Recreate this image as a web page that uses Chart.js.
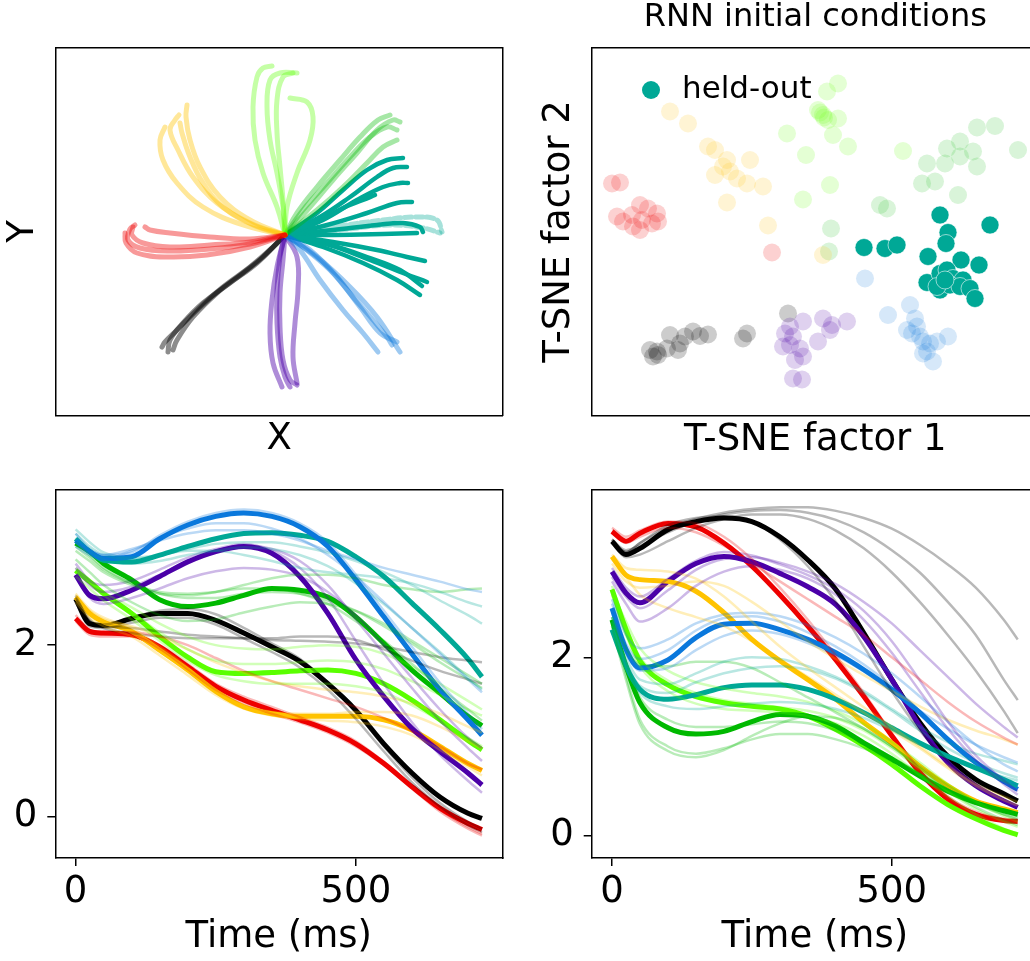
<!DOCTYPE html>
<html><head><meta charset="utf-8">
<script src="https://cdn.jsdelivr.net/npm/chart.js@4.4.0/dist/chart.umd.min.js"></script>
<style>
html,body{margin:0;padding:0;background:#fff;overflow:hidden;width:1030px;height:961px;position:relative;}
canvas{position:absolute;}
</style></head><body>
<canvas id="c1" width="530" height="470" style="left:0px;top:0px"></canvas>
<canvas id="c2" width="550" height="470" style="left:520px;top:0px"></canvas>
<canvas id="c3" width="530" height="481" style="left:0px;top:480px"></canvas>
<canvas id="c4" width="545" height="481" style="left:525px;top:480px"></canvas>
<script>
// ---------------- DATA ----------------
// colours
const colRed=[238,0,0], colYellow=[255,195,0], colLime=[90,255,0], colGreen=[0,185,0],
      colTeal=[0,168,150], colBlue=[10,120,220], colPurple=[75,0,168], colBlack=[0,0,0];

// Top-left: hand trajectories (x, y in cm-like units from the start point)
const redReaches = [
 [[0,0],[-3.5,-0.9],[-7.5,-1.4],[-11.5,-1.6],[-14.5,-1.3],[-15.7,-0.5],[-15.5,0.6],[-15,1.0]],
 [[0,0],[-3.5,-0.7],[-7.5,-1.0],[-11.5,-1.2],[-14.2,-0.8],[-15.3,0],[-15.2,0.8]],
 [[0,0],[-3.5,-0.4],[-7.5,-0.2],[-11.5,0.2],[-13.5,0.5],[-14,0.8]],
 [[0,0],[-3.5,-1.2],[-7.8,-2.0],[-11.8,-2.2],[-14.8,-1.8],[-15.9,-0.8],[-16,0.2]]
];
const yellowReaches = [
 [[0,0],[-3.5,1.2],[-6.8,3.2],[-9.2,5.8],[-10.7,8.5],[-11.5,10.5],[-11,11.5],[-10.6,12]],
 [[0,0],[-3.5,1.5],[-6.5,3.8],[-8.5,6.8],[-9.5,9.5],[-9.9,11.8],[-9.8,13]],
 [[0,0],[-4.2,1],[-8.2,2.8],[-10.8,5.2],[-12.2,7.5],[-12.5,9.5],[-12,10.8]],
 [[0,0],[-3.2,1],[-6.2,2.8],[-8.2,5.2],[-9.5,7.8],[-10.3,10.2],[-10.5,11.2]]
];
const limeReaches = [
 [[0,0],[-0.2,2.8],[-0.8,6.2],[-1.5,9.5],[-1.8,12.8],[-1.5,15.5],[-0.5,16.2],[1.2,16.2]],
 [[0,0],[-0.8,2.8],[-2.2,6.2],[-3,9.5],[-3.2,12.8],[-2.8,15.8],[-2.2,16.7],[-1.3,16.9]],
 [[0,0],[0.2,2.8],[1.2,6.2],[2.5,9.5],[2.8,11.8],[2.2,13.3],[0.5,13.7]],
 [[0,0],[-0.2,3.5],[-0.5,6.8],[-0.8,10.2],[-0.8,13.5],[-0.2,15.8],[0.8,16.2]]
];
const greenReaches = [
 [[0,0],[2.5,2.8],[4.8,5.5],[7.2,8.2],[9.2,10.5],[10.8,11.5],[11.5,11.3]],
 [[0,0],[1.8,2.5],[4.2,5.2],[6.5,7.8],[8.5,9.8],[10.2,10.8],[11.2,10.5]],
 [[0,0],[1.2,2.2],[3.2,4.8],[5.5,7.5],[7.5,9.8],[9.3,11.5],[10.5,12]],
 [[0,0],[3.2,2.5],[5.8,4.8],[8.2,7.2],[9.8,8.8],[11.2,9.5]]
];
const tealReaches = [
 [[0,0],[3.2,2.2],[5.8,4.5],[8.2,6.5],[10.2,7.5],[11.8,7.7]],
 [[0,0],[3.5,1.8],[6.5,3.8],[9.2,5.8],[10.8,6.7],[12.2,6.8]],
 [[0,0],[3.8,1.5],[7.2,3.5],[9.8,4.8],[11.5,5.2],[12.3,5.2]],
 [[0,0],[3.2,1.3],[5.8,2.7],[7.8,3.5],[9,4]],
 [[0,0],[4.2,1],[8.2,2.2],[11.2,3.2],[12.7,3.3]],
 [[0,0],[4.8,0.5],[9.2,1],[11.8,1.2],[13.5,0.8],[13.8,0.3]],
 [[0,0],[4.8,0],[9.8,0.1],[13.2,0.2]],
 [[0,0],[4.8,-0.7],[9.2,-1.5],[12.2,-2.2],[14,-2.6]],
 [[0,0],[4.5,-1],[8.5,-2.5],[11.8,-3.8],[14.2,-4.7]],
 [[0,0],[3.8,-1.2],[7.8,-2.8],[11.2,-4.5],[13.5,-6]],
 [[0,0],[4.2,-0.9],[8.2,-2.2],[11.5,-3.5],[13.7,-5.1]]
];
const tealDashedReaches = [
 [[0,0],[4.8,0.8],[9.8,1.5],[13.2,1.8],[15.2,1.5],[15.7,0.3]],
 [[0,0],[5.5,0.5],[10.5,1],[13.8,0.7],[15.5,0.2]]
];
const blueReaches = [
 [[0,0],[1.8,-1.2],[4.5,-3.5],[6.8,-6.2],[8.8,-8.5],[10.2,-10.2],[10.7,-11]],
 [[0,0],[2.5,-1.5],[5.2,-4.2],[7.5,-7.2],[9.5,-9.8],[11.2,-10.7]],
 [[0,0],[1.5,-1.5],[3.5,-4.5],[5.8,-7.5],[7.8,-9.8],[9.3,-11.7]],
 [[0,0],[3.2,-2.2],[6.5,-5.2],[9.2,-8.2],[11.5,-11.7]]
];
const purpleReaches = [
 [[0,0],[-0.5,-2.2],[-0.8,-5.5],[-0.8,-8.8],[-0.5,-12.2],[0,-14.2],[0.5,-15.2]],
 [[0,0],[-0.2,-2.5],[-0.5,-5.8],[-0.5,-9.2],[-0.2,-12.5],[0.5,-14.5],[1.2,-15]],
 [[0,0],[-0.8,-3.2],[-1.3,-6.5],[-1.5,-9.8],[-1.2,-12.8],[-0.3,-15.2]],
 [[0,0],[1.2,-2.2],[1.3,-5.5],[1,-8.8],[0.8,-12.2],[1.2,-14.8]]
];
const blackReaches = [
 [[0,0],[-0.8,-0.8],[-2.8,-2.8],[-5.5,-4.8],[-8.2,-6.8],[-10.2,-8.8],[-11.5,-10.5],[-11.7,-11.7]],
 [[0,0],[-1.2,-1.2],[-3.5,-3.2],[-6.2,-5.2],[-8.8,-7.5],[-10.8,-9.5],[-12,-10.7],[-12.3,-11.2]],
 [[0,0],[-2.2,-2.2],[-4.2,-3.8],[-6.8,-5.8],[-9.2,-8.2],[-10.8,-10.5],[-11.2,-11.5]]
];

// Top-right: t-SNE embedding of initial conditions
const redPts = [[-20.3,4.8],[-19.5,4.9],[-19.8,1.5],[-19.2,1.0],[-18.3,1.65],[-17.5,2.65],[-16.7,2.3],[-15.8,1.8],[-15.7,1.0],[-16.3,0.8],[-17.5,0.15],[-18.2,0.5],[-17.3,1.15],[-4.3,-2.1]];
const yellowPts = [[-14.5,12],[-12.7,10.8],[-10.7,8.5],[-10,8.15],[-8.8,7.15],[-9.2,6.5],[-8.5,6],[-10,5.65],[-7.8,5.3],[-6.8,4.8],[-5.2,4.5],[-6.5,7.15],[-8.8,2.9],[-4.7,0.6],[0.8,-2.35]];
const limePts = [[-2.8,9.8],[-0.9,7.65],[-1.2,3.2],[1.5,4.65],[2.3,14.8],[1.2,14],[0.3,12.15],[0.8,11.65],[0.5,11.9],[0.9,11.4],[1.3,11.15],[2.3,11.3],[1.8,9.65],[3.3,8.5],[8.8,8.05]];
const greenPts = [[16.2,10.4],[18,10.55],[20.3,8.15],[14.5,9],[13.2,8.3],[15.8,8],[14.5,7.5],[13,6.8],[16.2,6.5],[11.2,6.8],[12,5],[10.7,4.8],[14.3,3.65],[6.5,2.65],[7.2,2.3],[1.6,0.3],[1.4,-2]];
const bluePts = [[5,-4.7],[7.3,-8.35],[9.5,-7.35],[10,-8.7],[9.2,-9.85],[9.7,-10.2],[10.5,-10.5],[10.8,-11],[11.5,-11.2],[12.2,-11],[13.3,-10.5],[11.2,-12],[11.8,-13],[10.8,-12.2],[10.2,-9.5]];
const purplePts = [[-2.5,-9.5],[-1.2,-9],[0.8,-8.7],[1.7,-9.35],[3.2,-9],[-3,-10.2],[-2.2,-10.5],[-3.2,-11.5],[-2.5,-11.35],[-1.5,-11.7],[-1.2,-12.5],[-2,-12.85],[0.3,-11],[1.5,-9.85],[-2.2,-14.7],[-1.3,-14.8]];
const blackPts = [[-2.7,-8.2],[-6.8,-10.2],[-7.2,-10.7],[-10.7,-10.3],[-11.5,-10.45],[-12.2,-10],[-13,-10.5],[-14.5,-10.35],[-13.5,-11.2],[-13.7,-11.85],[-14.8,-11.7],[-15.8,-12],[-16.2,-12.5],[-15.7,-12.35],[-16.5,-11.85]];
const heldOutPts = [[4.9,-1.6],[7,-1.7],[8.2,-1.35],[12.5,1.65],[13.3,-0.1],[13.1,-1.2],[17.5,0.65],[11.3,-2.5],[14.6,-2.85],[16.4,-3.35],[11.2,-5.1],[12.5,-4.2],[13.2,-3.85],[13.8,-4.7],[14.8,-4.85],[12.5,-5.85],[13.5,-5.35],[14.5,-5.5],[15.5,-5.7],[16,-6.7],[12.2,-5.5],[13,-4.85]];
const legendLabel = 'held-out';

// Bottom panels: time axis and speed-like traces
const timeMs = [0,25,50,100,150,200,250,300,350,400,450,500,550,600,650,700,725];
const xTickValues = [0,500];
const yTickValues = [0,2];

// bottom-left, bold traces
const blBlue   = [3.22,3.09,3.01,3.03,3.24,3.40,3.50,3.54,3.50,3.38,3.15,2.76,2.33,1.90,1.48,1.13,0.95];
const blTeal   = [3.24,3.09,2.99,2.97,3.05,3.15,3.24,3.30,3.31,3.28,3.21,3.03,2.80,2.49,2.18,1.84,1.63];
const blPurple = [2.82,2.58,2.54,2.64,2.80,2.97,3.09,3.15,3.07,2.80,2.37,1.83,1.40,1.03,0.76,0.51,0.37];
const blGreen  = [3.19,3.09,2.95,2.76,2.53,2.45,2.49,2.58,2.66,2.64,2.56,2.33,2.02,1.71,1.44,1.17,1.06];
const blLime   = [2.87,2.74,2.60,2.37,2.10,1.86,1.69,1.67,1.68,1.70,1.71,1.67,1.55,1.36,1.13,0.89,0.78];
const blYellow = [2.56,2.37,2.27,2.16,1.94,1.71,1.46,1.28,1.20,1.17,1.17,1.17,1.13,1.01,0.82,0.62,0.54];
const blRed    = [2.31,2.16,2.14,2.12,1.98,1.75,1.52,1.36,1.24,1.13,1.01,0.85,0.62,0.35,0.10,-0.08,-0.15];
const blBlack  = [2.54,2.25,2.23,2.31,2.37,2.37,2.29,2.14,1.98,1.81,1.55,1.24,0.85,0.51,0.23,0.04,-0.02];
// bottom-left, faint traces
const blFaintBlue = [
 [3.30,3.12,3.05,3.08,3.28,3.44,3.54,3.58,3.54,3.42,3.20,2.82,2.40,1.98,1.56,1.20,1.02],
 [3.15,3.05,3.00,3.10,3.25,3.36,3.42,3.42,3.36,3.24,3.05,2.80,2.50,2.20,1.90,1.60,1.45],
 [3.20,3.10,3.05,3.12,3.22,3.30,3.34,3.34,3.30,3.22,3.10,3.00,2.90,2.82,2.74,2.65,2.62]];
const blFaintTeal = [
 [3.30,3.15,3.05,3.00,3.05,3.12,3.18,3.20,3.20,3.15,3.08,2.98,2.85,2.70,2.52,2.35,2.25],
 [3.25,3.10,3.00,2.95,2.98,3.05,3.10,3.14,3.12,3.05,2.92,2.72,2.48,2.20,1.92,1.62,1.48],
 [3.35,3.20,3.08,3.02,3.05,3.10,3.10,3.05,2.98,2.90,2.85,2.82,2.78,2.72,2.62,2.50,2.45]];
const blFaintGreen = [
 [3.10,2.98,2.85,2.70,2.60,2.58,2.62,2.70,2.78,2.82,2.82,2.78,2.70,2.65,2.62,2.65,2.66],
 [3.20,3.05,2.90,2.72,2.60,2.55,2.55,2.60,2.62,2.60,2.52,2.40,2.22,2.02,1.80,1.60,1.50],
 [3.00,2.85,2.70,2.50,2.35,2.28,2.30,2.38,2.45,2.50,2.48,2.40,2.25,2.05,1.85,1.65,1.55],
 [3.15,3.02,2.88,2.72,2.62,2.60,2.62,2.66,2.66,2.60,2.48,2.28,2.05,1.78,1.50,1.25,1.12]];
const blFaintPurple = [
 [2.90,2.70,2.62,2.68,2.82,2.98,3.10,3.16,3.12,2.98,2.70,2.30,1.90,1.50,1.12,0.80,0.65],
 [2.80,2.55,2.48,2.55,2.66,2.78,2.86,2.90,2.88,2.80,2.62,2.35,2.00,1.62,1.25,0.92,0.80],
 [2.95,2.75,2.70,2.75,2.88,3.02,3.12,3.18,3.10,2.90,2.55,2.05,1.55,1.10,0.72,0.42,0.28]];
const blFaintLime = [
 [2.85,2.72,2.58,2.38,2.15,1.95,1.82,1.78,1.78,1.80,1.82,1.80,1.72,1.58,1.42,1.25,1.18],
 [2.80,2.66,2.52,2.30,2.05,1.82,1.65,1.58,1.55,1.55,1.55,1.52,1.45,1.30,1.12,0.92,0.82],
 [2.90,2.76,2.62,2.44,2.25,2.10,2.00,1.96,1.95,1.98,2.00,1.98,1.90,1.75,1.55,1.35,1.25]];
const blFaintYellow = [
 [2.60,2.42,2.32,2.20,1.98,1.74,1.48,1.30,1.22,1.20,1.20,1.22,1.22,1.18,1.05,0.88,0.80],
 [2.50,2.32,2.22,2.10,1.88,1.65,1.42,1.26,1.18,1.14,1.12,1.10,1.05,0.95,0.78,0.58,0.48],
 [2.58,2.40,2.30,2.22,2.10,1.95,1.80,1.68,1.58,1.52,1.48,1.45,1.40,1.32,1.20,1.05,0.98]];
const blFaintRed = [
 [2.35,2.18,2.14,2.12,2.00,1.78,1.55,1.40,1.28,1.16,1.04,0.88,0.64,0.36,0.08,-0.12,-0.20],
 [2.28,2.12,2.10,2.10,1.96,1.72,1.48,1.32,1.20,1.10,0.98,0.82,0.60,0.33,0.06,-0.14,-0.22],
 [2.30,2.15,2.12,2.15,2.10,2.00,1.85,1.70,1.58,1.48,1.38,1.28,1.15,1.00,0.82,0.62,0.55]];
const blFaintBlack = [
 [2.58,2.28,2.24,2.32,2.40,2.42,2.36,2.20,2.02,1.84,1.56,1.22,0.82,0.46,0.16,-0.06,-0.14],
 [2.50,2.22,2.20,2.26,2.32,2.32,2.24,2.08,1.92,1.74,1.48,1.14,0.76,0.40,0.12,-0.10,-0.18],
 [2.55,2.30,2.20,2.14,2.10,2.08,2.08,2.08,2.08,2.10,2.10,2.06,1.95,1.82,1.70,1.60,1.55],
 [2.52,2.28,2.22,2.20,2.16,2.12,2.10,2.08,2.06,2.05,2.04,2.02,1.98,1.92,1.86,1.82,1.80]];

// bottom-right, bold traces
const brBlack  = [3.30,3.15,3.22,3.43,3.52,3.56,3.52,3.35,3.09,2.76,2.27,1.75,1.27,0.89,0.63,0.47,0.39];
const brRed    = [3.41,3.30,3.39,3.50,3.46,3.28,3.02,2.70,2.35,1.97,1.56,1.12,0.71,0.41,0.24,0.17,0.16];
const brPurple = [2.96,2.72,2.61,2.85,3.05,3.13,3.07,2.94,2.79,2.59,2.23,1.75,1.23,0.82,0.56,0.39,0.32];
const brYellow = [3.13,2.92,2.87,2.85,2.74,2.50,2.20,1.96,1.75,1.53,1.27,1.04,0.78,0.56,0.39,0.30,0.26];
const brBlue   = [2.55,2.09,1.88,1.97,2.22,2.37,2.38,2.31,2.20,2.05,1.86,1.64,1.38,1.08,0.82,0.61,0.52];
const brTeal   = [2.31,1.90,1.64,1.53,1.58,1.66,1.69,1.69,1.64,1.53,1.38,1.21,1.04,0.89,0.76,0.63,0.56];
const brGreen  = [2.42,1.90,1.49,1.21,1.14,1.17,1.28,1.36,1.34,1.23,1.04,0.86,0.67,0.50,0.37,0.28,0.24];
const brLime   = [2.76,2.31,1.96,1.69,1.56,1.49,1.45,1.42,1.34,1.19,1.01,0.80,0.56,0.35,0.19,0.06,0.01];
// bottom-right, faint traces
const brFaintBlack = [
 [3.30,3.18,3.28,3.45,3.55,3.62,3.66,3.68,3.68,3.64,3.56,3.44,3.26,3.04,2.78,2.42,2.20],
 [3.32,3.20,3.25,3.40,3.52,3.60,3.64,3.65,3.62,3.54,3.40,3.20,2.95,2.62,2.25,1.75,1.52],
 [3.28,3.12,3.15,3.30,3.45,3.55,3.60,3.60,3.55,3.42,3.22,2.95,2.62,2.25,1.85,1.40,1.15],
 [3.32,3.18,3.28,3.48,3.56,3.58,3.52,3.32,3.02,2.62,2.12,1.62,1.18,0.84,0.60,0.46,0.40]];
const brFaintRed = [
 [3.45,3.35,3.42,3.52,3.50,3.35,3.10,2.78,2.42,2.02,1.60,1.15,0.74,0.44,0.27,0.19,0.18],
 [3.40,3.28,3.35,3.45,3.40,3.25,3.05,2.85,2.65,2.45,2.25,2.00,1.75,1.50,1.28,1.10,1.02]];
const brFaintPurple = [
 [3.00,2.78,2.68,2.88,3.08,3.18,3.14,3.04,2.92,2.76,2.52,2.18,1.74,1.28,0.90,0.62,0.50],
 [2.90,2.68,2.55,2.75,2.98,3.10,3.12,3.06,2.96,2.82,2.62,2.38,2.08,1.78,1.48,1.22,1.10],
 [2.85,2.60,2.40,2.55,2.80,2.96,3.02,2.98,2.88,2.70,2.42,2.05,1.62,1.20,0.85,0.58,0.46]];
const brFaintYellow = [
 [3.15,3.00,2.98,2.96,2.88,2.68,2.40,2.12,1.88,1.66,1.44,1.22,1.00,0.78,0.58,0.44,0.38],
 [3.05,2.85,2.78,2.80,2.85,2.80,2.62,2.40,2.18,1.98,1.80,1.62,1.45,1.30,1.18,1.08,1.02],
 [3.10,2.90,2.70,2.55,2.45,2.35,2.18,1.98,1.78,1.58,1.38,1.18,0.98,0.76,0.56,0.40,0.34]];
const brFaintBlue = [
 [2.60,2.15,1.98,2.08,2.30,2.44,2.46,2.40,2.28,2.12,1.92,1.68,1.40,1.10,0.84,0.64,0.56],
 [2.50,2.05,1.85,1.88,2.08,2.24,2.30,2.26,2.16,2.02,1.84,1.62,1.40,1.20,1.02,0.88,0.82],
 [2.65,2.25,2.10,2.20,2.38,2.48,2.50,2.46,2.36,2.22,2.04,1.82,1.56,1.28,1.02,0.80,0.72]];
const brFaintTeal = [
 [2.40,1.95,1.68,1.60,1.72,1.82,1.88,1.90,1.86,1.76,1.60,1.40,1.18,0.98,0.82,0.70,0.65],
 [2.35,1.90,1.60,1.45,1.42,1.45,1.48,1.50,1.48,1.42,1.32,1.18,1.02,0.88,0.76,0.66,0.62],
 [2.45,2.00,1.75,1.70,1.82,1.95,2.00,1.98,1.90,1.78,1.62,1.42,1.22,1.05,0.92,0.84,0.80]];
const brFaintGreen = [
 [2.40,1.80,1.30,1.00,0.92,0.98,1.08,1.14,1.14,1.08,0.98,0.84,0.68,0.52,0.38,0.27,0.22],
 [2.45,1.95,1.55,1.30,1.22,1.22,1.25,1.28,1.26,1.18,1.05,0.88,0.70,0.52,0.36,0.24,0.20],
 [2.35,1.75,1.25,0.95,0.88,0.96,1.12,1.26,1.34,1.32,1.20,1.00,0.76,0.52,0.32,0.18,0.12],
 [2.45,2.10,1.92,1.90,1.95,1.95,1.88,1.72,1.55,1.38,1.20,1.00,0.78,0.56,0.38,0.24,0.18]];
const brFaintLime = [
 [2.80,2.35,2.00,1.74,1.60,1.52,1.48,1.44,1.40,1.32,1.18,0.98,0.74,0.50,0.30,0.16,0.10],
 [2.70,2.25,1.90,1.62,1.48,1.42,1.40,1.38,1.34,1.26,1.12,0.92,0.68,0.44,0.24,0.08,0.02],
 [2.75,2.40,2.10,1.85,1.72,1.65,1.60,1.56,1.50,1.40,1.25,1.05,0.82,0.58,0.38,0.22,0.16]];

// ---------------- CHARTS ----------------
Chart.defaults.font.family = "'DejaVu Sans', sans-serif";
Chart.defaults.color = '#000';
Chart.defaults.animation = false;
Chart.defaults.events = [];
Chart.defaults.plugins.legend.display = false;
Chart.defaults.plugins.tooltip.enabled = false;

const rgba = (c,a) => `rgba(${c[0]},${c[1]},${c[2]},${a})`;
const BORDER = {display:true, color:'#000', width:1.5};

function noPad(s){ s.paddingTop = 0; s.paddingBottom = 0; s.paddingLeft = 0; s.paddingRight = 0; }
function frameAxis(pos){
  return {type:'linear', position:pos, display:true, min:0, max:1,
    grid:{display:false}, ticks:{display:false}, border:BORDER,
    afterFit(s){ if(pos==='top'||pos==='bottom') s.height=0; else s.width=0; noPad(s); }};
}
function trajDS(path, color, alpha, width, dash){
  return {data: path.map(p=>({x:p[0], y:p[1]})), showLine:true, borderColor: rgba(color,alpha),
    borderWidth: width, pointRadius:0, tension:0.4, fill:false, borderCapStyle:'round',
    borderJoinStyle:'round', borderDash: dash || []};
}
function seriesDS(vals, color, alpha, width){
  return {data: vals.map((v,i)=>({x:timeMs[i], y:v})), showLine:true, borderColor: rgba(color,alpha),
    borderWidth: width, pointRadius:0, cubicInterpolationMode:'monotone', fill:false,
    borderCapStyle:'butt', borderJoinStyle:'round'};
}
function ptsDS(pts, color, alpha, edge){
  return {data: pts.map(p=>({x:p[0], y:p[1]})), pointRadius:9, pointBackgroundColor: rgba(color,alpha),
    pointBorderColor: edge ? 'rgba(255,255,255,0.7)' : 'rgba(0,0,0,0)', pointBorderWidth: edge ? 0.8 : 0, showLine:false};
}

// ---- top-left ----
const tlSets = [];
[[redReaches,colRed,0.4],[yellowReaches,colYellow,0.4],[limeReaches,colLime,0.35],
 [greenReaches,colGreen,0.35],[blueReaches,colBlue,0.4],[purpleReaches,colPurple,0.45],
 [blackReaches,colBlack,0.45]].forEach(([g,c,a])=>g.forEach(p=>tlSets.push(trajDS(p,c,a,5))));
tealDashedReaches.forEach(p=>tlSets.push(trajDS(p,colTeal,0.35,5,[7,4])));
tealReaches.forEach(p=>tlSets.push(trajDS(p,colTeal,1,4.5)));

new Chart(document.getElementById('c1'), {
  type:'scatter', data:{datasets:tlSets},
  options:{responsive:false, layout:{padding:{left:0, top:47.3, right:27.3, bottom:0}},
    scales:{
      x:{type:'linear', position:'bottom', min:-22.93, max:21.77, grid:{display:false}, ticks:{display:false}, border:BORDER,
         title:{display:true, text:'X', font:{size:37}, padding:{top:0, bottom:8}}, afterFit(s){s.height=54.3; noPad(s);}},
      y:{type:'linear', position:'left', min:-18.07, max:18.77, grid:{display:false}, ticks:{display:false}, border:BORDER,
         title:{display:true, text:'Y', font:{size:37}, padding:{top:1.3, bottom:0}}, afterFit(s){s.width=55.7; noPad(s);}},
      x2:frameAxis('top'), y2:frameAxis('right')
    }}
});

// ---- top-right ----
const heldOutLegend = {
  id:'heldOutLegend',
  afterDraw(chart){
    const ctx = chart.ctx, a = chart.chartArea;
    ctx.save();
    ctx.fillStyle = rgba(colTeal,1);
    ctx.beginPath(); ctx.arc(a.left+59, a.top+42.7, 9, 0, Math.PI*2); ctx.fill();
    ctx.fillStyle = '#000'; ctx.font = "31px 'DejaVu Sans'"; ctx.textBaseline = 'alphabetic';
    ctx.fillText(legendLabel, a.left+90, a.top+50.7);
    ctx.restore();
  }
};
new Chart(document.getElementById('c2'), {
  type:'scatter',
  data:{datasets:[
    ptsDS(redPts,colRed,0.18), ptsDS(yellowPts,[255,200,40],0.2), ptsDS(limePts,[120,255,40],0.2),
    ptsDS(greenPts,[30,190,30],0.17), ptsDS(bluePts,colBlue,0.17), ptsDS(purplePts,colPurple,0.18),
    ptsDS(blackPts,colBlack,0.2), ptsDS(heldOutPts,colTeal,1,true)
  ]},
  options:{responsive:false, layout:{padding:{left:0, top:0, right:31.3, bottom:0}},
    plugins:{title:{display:true, text:'RNN initial conditions', fullSize:false, font:{size:32, weight:'normal', lineHeight:1.1}, padding:{top:0, bottom:12.1}, color:'#000'}},
    scales:{
      x:{type:'linear', position:'bottom', min:-22.3, max:22.37, grid:{display:false}, ticks:{display:false}, border:BORDER,
         title:{display:true, text:'T-SNE factor 1', font:{size:37}, padding:{top:0, bottom:7.8}}, afterFit(s){s.height=54.3; noPad(s);}},
      y:{type:'linear', position:'left', min:-18.42, max:18.42, grid:{display:false}, ticks:{display:false}, border:BORDER,
         title:{display:true, text:'T-SNE factor 2', font:{size:37}, padding:{top:16.8, bottom:0}}, afterFit(s){s.width=72; noPad(s);}},
      x2:frameAxis('top'), y2:frameAxis('right')
    }},
  plugins:[heldOutLegend]
});

// ---- bottom panels ----
function timeScales(ymin, ymax, yAxisWidth){
  const tickGrid = {display:true, drawOnChartArea:false, drawTicks:true, tickLength:8, color:'#000', lineWidth:1.5};
  return {
    x:{type:'linear', position:'bottom', min:-36.25, max:761.25, grid:tickGrid, border:BORDER,
       afterBuildTicks(s){ s.ticks = xTickValues.map(v=>({value:v})); },
       ticks:{autoSkip:false, maxRotation:0, font:{size:37}, padding:4.3, color:'#000', callback:v=>String(v)},
       title:{display:true, text:'Time (ms)', font:{size:37}, padding:{top:0, bottom:1.3}}, afterFit(s){s.height=103; noPad(s);}},
    y:{type:'linear', position:'left', min:ymin, max:ymax, grid:tickGrid, border:BORDER,
       afterBuildTicks(s){ s.ticks = yTickValues.map(v=>({value:v})); },
       ticks:{autoSkip:false, font:{size:37}, padding:10, color:'#000', callback:v=>String(v)},
       afterFit(s){s.width=yAxisWidth; noPad(s);}},
    x2:frameAxis('top'), y2:frameAxis('right')
  };
}
function faint(groups, color){ const out=[]; groups.forEach(v=>out.push(seriesDS(v,color,0.28,2.5))); return out; }

const blSets = [].concat(
  faint(blFaintBlue,colBlue), faint(blFaintTeal,colTeal), faint(blFaintGreen,colGreen), faint(blFaintPurple,colPurple),
  faint(blFaintLime,colLime), faint(blFaintYellow,colYellow), faint(blFaintRed,colRed), faint(blFaintBlack,colBlack),
  [seriesDS(blBlue,colBlue,1,5), seriesDS(blTeal,colTeal,1,5), seriesDS(blPurple,colPurple,1,5), seriesDS(blGreen,colGreen,1,5),
   seriesDS(blLime,colLime,1,5), seriesDS(blYellow,colYellow,1,5), seriesDS(blBlack,colBlack,1,5), seriesDS(blRed,colRed,1,5)]
);
new Chart(document.getElementById('c3'), {
  type:'scatter', data:{datasets:blSets},
  options:{responsive:false, layout:{padding:{left:0, top:10, right:27.7, bottom:0}},
    scales: timeScales(-0.481, 3.808, 55.3)}
});

const brSets = [].concat(
  faint(brFaintBlack,colBlack), faint(brFaintRed,colRed), faint(brFaintPurple,colPurple), faint(brFaintYellow,colYellow),
  faint(brFaintBlue,colBlue), faint(brFaintTeal,colTeal), faint(brFaintGreen,colGreen), faint(brFaintLime,colLime),
  [seriesDS(brTeal,colTeal,1,5), seriesDS(brBlue,colBlue,1,5), seriesDS(brGreen,colGreen,1,5), seriesDS(brLime,colLime,1,5),
   seriesDS(brYellow,colYellow,1,5), seriesDS(brPurple,colPurple,1,5), seriesDS(brBlack,colBlack,1,5), seriesDS(brRed,colRed,1,5)]
);
new Chart(document.getElementById('c4'), {
  type:'scatter', data:{datasets:brSets},
  options:{responsive:false, layout:{padding:{left:0, top:10, right:32, bottom:0}},
    scales: timeScales(-0.249, 3.874, 66.7)}
});
</script>
</body></html>
